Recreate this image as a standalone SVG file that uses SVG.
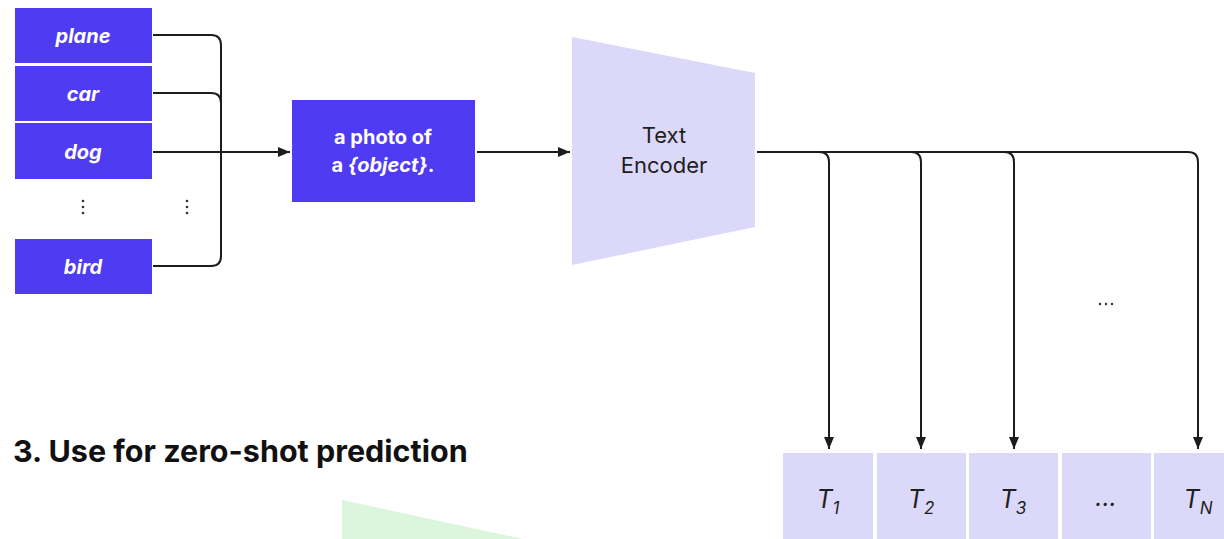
<svg xmlns="http://www.w3.org/2000/svg" width="1224" height="539" viewBox="0 0 1224 539">
<defs>
<style>
.cls{fill:#4f3bf2}
.lbl{fill:#ffffff;font-family:Inter,"Liberation Sans",sans-serif;font-weight:700;font-style:italic;font-size:20px;text-anchor:middle}
.ph{fill:#ffffff;font-family:Inter,"Liberation Sans",sans-serif;font-weight:700;font-size:20px;text-anchor:middle}
.enc{fill:#dcd8fa}
.enct{fill:#1f1f1f;font-family:Inter,"Liberation Sans",sans-serif;font-size:22px;text-anchor:middle}
.tb{fill:#dcd8fa}
.tt{fill:#1f1f1f;font-family:Inter,"Liberation Sans",sans-serif;font-style:italic;font-size:25px;text-anchor:middle}
.ln{fill:none;stroke:#1c1c1c;stroke-width:2}
.dot{fill:#333}
.title{fill:#111;font-family:Inter,"Liberation Sans",sans-serif;font-weight:700;font-size:30.5px}
</style>
<marker id="ah" viewBox="0 0 12 10" refX="12" refY="5" markerWidth="12" markerHeight="10" markerUnits="userSpaceOnUse" orient="auto">
<path d="M0,0 L12,5 L0,10 Z" fill="#1c1c1c"/>
</marker>
</defs>
<rect width="1224" height="539" fill="#ffffff"/>

<g id="plane"><rect class="cls" x="15" y="8" width="137" height="55"/><text class="lbl" x="83" y="43">plane</text></g>
<g id="car"><rect class="cls" x="15" y="66" width="137" height="55"/><text class="lbl" x="83" y="101">car</text></g>
<g id="dog"><rect class="cls" x="15" y="123" width="137" height="56"/><text class="lbl" x="83" y="159">dog</text></g>
<g id="dots-left">
<circle class="dot" cx="83" cy="201" r="1.3"/><circle class="dot" cx="83" cy="207" r="1.3"/><circle class="dot" cx="83" cy="213" r="1.3"/>
<circle class="dot" cx="187" cy="201" r="1.3"/><circle class="dot" cx="187" cy="207" r="1.3"/><circle class="dot" cx="187" cy="213" r="1.3"/>
</g>
<g id="bird"><rect class="cls" x="15" y="239" width="137" height="55"/><text class="lbl" x="83" y="274">bird</text></g>

<g id="template"><rect class="cls" x="292" y="100" width="183" height="102"/>
<text class="ph" x="383" y="144">a photo of</text>
<text class="ph" x="383" y="172">a <tspan font-style="italic">{object}</tspan>.</text></g>

<g id="text-encoder"><polygon class="enc" points="572,37 755,73 755,227 572,265"/>
<text class="enct" x="664" y="143">Text</text>
<text class="enct" x="664" y="173">Encoder</text></g>

<g id="t1"><rect class="tb" x="783" y="453" width="90" height="86"/><text class="tt" x="828" y="508">T<tspan font-size="17" dy="6">1</tspan></text></g>
<g id="t2"><rect class="tb" x="877" y="453" width="89" height="86"/><text class="tt" x="921" y="508">T<tspan font-size="17" dy="6">2</tspan></text></g>
<g id="t3"><rect class="tb" x="969" y="453" width="89" height="86"/><text class="tt" x="1013" y="508">T<tspan font-size="17" dy="6">3</tspan></text></g>
<g id="tdots"><rect class="tb" x="1062" y="453" width="89" height="86"/><text class="tt" x="1106" y="506" font-style="normal" font-size="16">...</text></g>
<g id="tn"><rect class="tb" x="1154" y="453" width="90" height="86"/><text class="tt" x="1198" y="508">T<tspan font-size="17" dy="6">N</tspan></text></g>

<g id="dots-right"><circle class="dot" cx="1100" cy="304" r="1.2"/><circle class="dot" cx="1106" cy="304" r="1.2"/><circle class="dot" cx="1112" cy="304" r="1.2"/></g>

<g id="connectors">
<path class="ln" d="M153,35 H211 Q221,35 221,45 V256 Q221,266 211,266 H153"/>
<path class="ln" d="M153,93 H211 Q221,93 221,103"/>
<path class="ln" d="M153,152 H290" marker-end="url(#ah)"/>
<path class="ln" d="M477,152 H570" marker-end="url(#ah)"/>
<path class="ln" d="M757,152 H1188 Q1198,152 1198,162 V449" marker-end="url(#ah)"/>
<path class="ln" d="M819,152 Q829,152 829,162 V449" marker-end="url(#ah)"/>
<path class="ln" d="M911,152 Q921,152 921,162 V449" marker-end="url(#ah)"/>
<path class="ln" d="M1004,152 Q1014,152 1014,162 V449" marker-end="url(#ah)"/>
</g>

<g id="section-title"><text class="title" x="13" y="462">3. Use for zero-shot prediction</text></g>
<g id="image-encoder-partial"><polygon points="342,500 523,539 342,539" fill="#dcf6de"/></g>
</svg>
